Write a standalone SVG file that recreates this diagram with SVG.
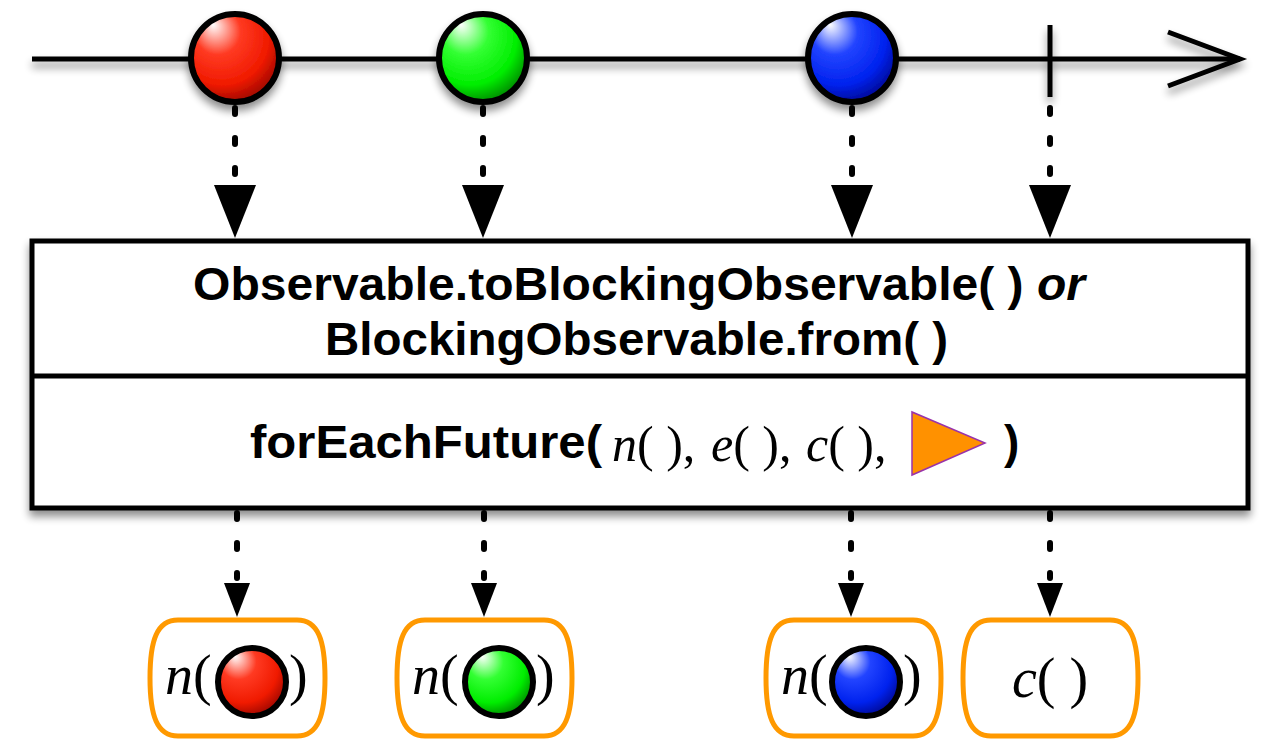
<svg xmlns="http://www.w3.org/2000/svg" width="1280" height="750" viewBox="0 0 1280 750">
<defs>
<filter id="sh" x="-20%" y="-20%" width="140%" height="160%">
<feGaussianBlur in="SourceAlpha" stdDeviation="4"/>
<feOffset dx="0" dy="6" result="b"/>
<feComponentTransfer><feFuncA type="linear" slope="0.45"/></feComponentTransfer>
<feMerge><feMergeNode/><feMergeNode in="SourceGraphic"/></feMerge>
</filter>
<radialGradient id="gr" cx="0.4" cy="0.35" r="0.75" fx="0.25" fy="0.12">
<stop offset="0" stop-color="#ffffff"/><stop offset="0.35" stop-color="#ff3a22"/><stop offset="0.7" stop-color="#f01a00"/><stop offset="1" stop-color="#800000"/>
</radialGradient>
<radialGradient id="gg" cx="0.4" cy="0.35" r="0.75" fx="0.25" fy="0.12">
<stop offset="0" stop-color="#ffffff"/><stop offset="0.35" stop-color="#33ff33"/><stop offset="0.7" stop-color="#00ee00"/><stop offset="1" stop-color="#006600"/>
</radialGradient>
<radialGradient id="gb" cx="0.4" cy="0.35" r="0.75" fx="0.25" fy="0.12">
<stop offset="0" stop-color="#ffffff"/><stop offset="0.35" stop-color="#2244ff"/><stop offset="0.7" stop-color="#0022ee"/><stop offset="1" stop-color="#000077"/>
</radialGradient>
<path id="pill" d="M28,0 H147 C168,0 175,20 175,58 C175,96 168,116 147,116 H28 C7,116 0,96 0,58 C0,20 7,0 28,0 Z"/>
<style>
.ln{stroke:#000;stroke-width:5;fill:none}
.mb{stroke:#000;stroke-width:6}
.dot{stroke:#000;stroke-width:6;stroke-linecap:round;stroke-dasharray:6 24;fill:none}
.ah{fill:#000}
.box{fill:#fff;stroke:#000;stroke-width:5}
.nd{fill:#fff;stroke:#ff9900;stroke-width:5}
.sb{font-family:"Liberation Sans",Arial,sans-serif;font-weight:bold;font-size:46px;fill:#000}
.sf{font-family:"Liberation Serif","DejaVu Serif",serif;font-size:50px;fill:#000}
.nf{font-family:"Liberation Serif","DejaVu Serif",serif;font-size:56px;fill:#000}
</style>
</defs>
<rect width="1280" height="750" fill="#fff"/>
<g id="timeline" filter="url(#sh)">
<line class="ln" x1="32" y1="59" x2="1240" y2="59"/>
<polyline class="ln" points="1168,32 1240,59 1168,86"/>
<line class="ln" x1="1050" y1="25" x2="1050" y2="97"/>
</g>
<g id="marble-red" filter="url(#sh)"><circle class="mb" cx="235" cy="58" r="44" fill="url(#gr)"/></g>
<g id="marble-green" filter="url(#sh)"><circle class="mb" cx="483" cy="58" r="44" fill="url(#gg)"/></g>
<g id="marble-blue" filter="url(#sh)"><circle class="mb" cx="852" cy="58" r="44" fill="url(#gb)"/></g>
<g id="connectors">
<line class="dot" x1="235" y1="108" x2="235" y2="176"/>
<polygon class="ah" points="214,185 256,185 235,238"/>
<line class="dot" x1="483" y1="108" x2="483" y2="176"/>
<polygon class="ah" points="462,185 504,185 483,238"/>
<line class="dot" x1="852" y1="108" x2="852" y2="176"/>
<polygon class="ah" points="831,185 873,185 852,238"/>
<line class="dot" x1="1050" y1="108" x2="1050" y2="176"/>
<polygon class="ah" points="1029,185 1071,185 1050,238"/>
<line class="dot" x1="237" y1="513" x2="237" y2="578"/>
<polygon class="ah" points="224,583 250,583 237,617"/>
<line class="dot" x1="484" y1="513" x2="484" y2="578"/>
<polygon class="ah" points="471,583 497,583 484,617"/>
<line class="dot" x1="851" y1="513" x2="851" y2="578"/>
<polygon class="ah" points="838,583 864,583 851,617"/>
<line class="dot" x1="1050" y1="513" x2="1050" y2="578"/>
<polygon class="ah" points="1037,583 1063,583 1050,617"/>
</g>
<g id="operator">
<rect class="box" x="32" y="241" width="1216" height="267" filter="url(#sh)"/>
<line class="ln" x1="32" y1="376" x2="1248" y2="376"/>
<text class="sb" x="193" y="300" textLength="892" lengthAdjust="spacingAndGlyphs">Observable.toBlockingObservable( ) <tspan font-style="italic">or</tspan></text>
<text class="sb" x="325" y="355" textLength="623" lengthAdjust="spacingAndGlyphs">BlockingObservable.from( )</text>
<text class="sb" x="250" y="458" textLength="352" lengthAdjust="spacingAndGlyphs">forEachFuture(</text>
<text class="sf" y="461"><tspan x="612" font-style="italic">n</tspan><tspan>( ),</tspan><tspan x="711" font-style="italic">e</tspan><tspan>( ),</tspan><tspan x="806" font-style="italic">c</tspan><tspan>( ),</tspan></text>
<polygon points="912,412 912,475 985,443" fill="#ff9100" stroke="#9933aa" stroke-width="1.5"/>
<text class="sb" x="1004" y="458">)</text>
</g>
<g id="out-red">
<use href="#pill" class="nd" x="150" y="620"/>
<text class="nf" x="165" y="694"><tspan font-style="italic">n</tspan>(</text>
<circle class="mb" cx="252" cy="682" r="34" fill="url(#gr)"/>
<text class="nf" x="289" y="694">)</text>
</g>
<g id="out-green">
<use href="#pill" class="nd" x="397" y="620"/>
<text class="nf" x="412" y="694"><tspan font-style="italic">n</tspan>(</text>
<circle class="mb" cx="499" cy="682" r="34" fill="url(#gg)"/>
<text class="nf" x="536" y="694">)</text>
</g>
<g id="out-blue">
<use href="#pill" class="nd" x="766" y="620"/>
<text class="nf" x="781" y="694"><tspan font-style="italic">n</tspan>(</text>
<circle class="mb" cx="866" cy="682" r="34" fill="url(#gb)"/>
<text class="nf" x="903" y="694">)</text>
</g>
<g id="out-complete">
<use href="#pill" class="nd" x="963" y="620"/>
<text class="nf" x="1050" y="697" text-anchor="middle"><tspan font-style="italic">c</tspan>( )</text>
</g>
</svg>
